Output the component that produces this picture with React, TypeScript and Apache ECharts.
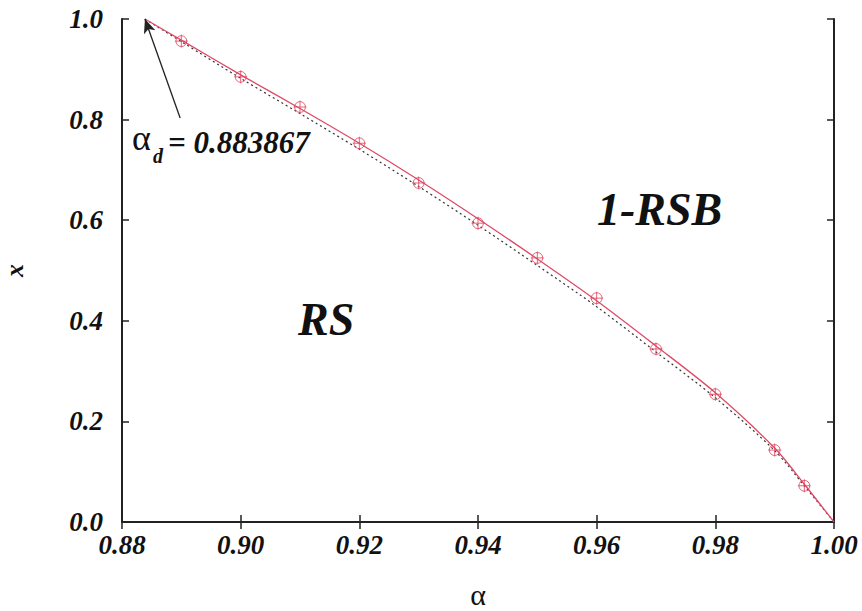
import React, { useEffect, useRef } from "react";
import * as echarts from "echarts";

const xTicks = [0.88, 0.9, 0.92, 0.94, 0.96, 0.98, 1.0];
const yTicks = [0.0, 0.2, 0.4, 0.6, 0.8, 1.0];

const alphaD = 0.883867;

// simulation points (alpha, x)
const pointAlpha = [0.89, 0.9, 0.91, 0.92, 0.93, 0.94, 0.95, 0.96, 0.97, 0.98, 0.99, 0.995];
const pointX = [0.956, 0.885, 0.825, 0.753, 0.674, 0.594, 0.525, 0.445, 0.344, 0.254, 0.143, 0.072];

// solid (red) curve
const curveAlpha = [0.883867, 0.89, 0.9, 0.91, 0.92, 0.93, 0.94, 0.95, 0.96, 0.97, 0.98, 0.99, 0.995, 1.0];
const curveX = [1.0, 0.958, 0.889, 0.822, 0.753, 0.68, 0.603, 0.523, 0.44, 0.35, 0.257, 0.147, 0.075, 0.0];

// dotted curve
const dotAlpha = [0.883867, 0.89, 0.9, 0.91, 0.92, 0.93, 0.94, 0.95, 0.96, 0.97, 0.98, 0.99, 0.995, 1.0];
const dotX = [1.0, 0.955, 0.882, 0.812, 0.741, 0.667, 0.59, 0.51, 0.428, 0.338, 0.247, 0.142, 0.072, 0.0];

// arrow annotation start point (data coords)
const arrowFrom = [0.8898, 0.803];

const SERIF = "Liberation Serif";

export default function App() {
  const ref = useRef<HTMLDivElement>(null);
  useEffect(() => {
    if (!ref.current) return;
    const chart = echarts.init(ref.current, undefined, { renderer: "svg" });
    const zip = (a: number[], b: number[]) => a.map((v, i) => [v, b[i]]);
    const tickLabelStyle = {
      fontFamily: SERIF,
      fontSize: 27,
      fontWeight: "bold" as const,
      fontStyle: "italic" as const,
      color: "#111",
    };
    const axisLine = { show: true, lineStyle: { color: "#222", width: 2 } };
    const axisTick = { show: true, inside: true, length: 7, lineStyle: { color: "#222", width: 1.5 } };
    chart.setOption({
      animation: false,
      backgroundColor: "#fff",
      grid: {
        left: 122,
        right: 28,
        top: 19,
        bottom: 89,
        containLabel: false,
        outerBoundsMode: "none",
      },
      xAxis: [
        {
          type: "value",
          min: 0.88,
          max: 1.0,
          interval: 0.02,
          axisLine,
          axisTick,
          splitLine: { show: false },
          axisLabel: {
            ...tickLabelStyle,
            margin: 9,
            formatter: (v: number) => v.toFixed(2),
            customValues: xTicks,
          },
          name: "α",
          nameLocation: "middle",
          nameGap: 57,
          nameTextStyle: { fontFamily: SERIF, fontSize: 30, color: "#111" },
        },
        {
          type: "value",
          position: "top",
          min: 0.88,
          max: 1.0,
          interval: 0.02,
          axisLine,
          axisTick,
          axisLabel: { show: false },
          splitLine: { show: false },
        },
      ],
      yAxis: [
        {
          type: "value",
          min: 0,
          max: 1.0,
          interval: 0.2,
          axisLine,
          axisTick,
          splitLine: { show: false },
          axisLabel: {
            ...tickLabelStyle,
            margin: 19,
            formatter: (v: number) => v.toFixed(1),
            customValues: yTicks,
          },
          name: "x",
          nameLocation: "middle",
          nameGap: 95,
          nameTextStyle: {
            fontFamily: SERIF,
            fontSize: 26,
            fontWeight: "bold",
            fontStyle: "italic",
            color: "#111",
          },
        },
        {
          type: "value",
          position: "right",
          min: 0,
          max: 1.0,
          interval: 0.2,
          axisLine,
          axisTick,
          axisLabel: { show: false },
          splitLine: { show: false },
        },
      ],
      series: [
        {
          type: "line",
          data: zip(dotAlpha, dotX),
          smooth: 0.3,
          showSymbol: false,
          symbol: "none",
          lineStyle: { color: "#333", width: 1.2, type: [2, 3] },
          silent: true,
          z: 2,
          markLine: {
            silent: true,
            symbol: ["none", "arrow"],
            symbolSize: [9, 14],
            label: { show: false },
            lineStyle: { color: "#222", width: 1.3, type: "solid" },
            data: [[{ coord: arrowFrom }, { coord: [alphaD, 1.0] }]],
          },
        },
        {
          type: "line",
          data: zip(curveAlpha, curveX),
          smooth: 0.3,
          showSymbol: false,
          symbol: "none",
          lineStyle: { color: "#de4a66", width: 1.3 },
          silent: true,
          z: 3,
        },
        {
          type: "scatter",
          data: zip(pointAlpha, pointX),
          symbol:
            "path://M0,10 A10,10 0 1,1 20,10 A10,10 0 1,1 0,10 Z M10,-2 L10,22 M-2,10 L22,10",
          symbolSize: 13,
          itemStyle: { color: "none", borderColor: "#e0405c", borderWidth: 1 },
          z: 4,
        },
      ],
      graphic: [
        {
          type: "text",
          x: 132,
          y: 156,
          style: {
            text: "α",
            fontFamily: SERIF,
            fontSize: 36,
            fill: "#111",
            verticalAlign: "bottom",
          },
        },
        {
          type: "text",
          x: 153,
          y: 166,
          style: {
            text: "d",
            fontFamily: SERIF,
            fontSize: 20,
            fontWeight: "bold",
            fontStyle: "italic",
            fill: "#111",
            verticalAlign: "bottom",
          },
        },
        {
          type: "text",
          x: 168,
          y: 158,
          style: {
            text: "= 0.883867",
            fontFamily: SERIF,
            fontSize: 31,
            fontWeight: "bold",
            fontStyle: "italic",
            fill: "#111",
            verticalAlign: "bottom",
          },
        },
        {
          type: "text",
          x: 298,
          y: 342,
          style: {
            text: "RS",
            fontFamily: SERIF,
            fontSize: 46,
            fontWeight: "bold",
            fontStyle: "italic",
            fill: "#111",
            verticalAlign: "bottom",
          },
        },
        {
          type: "text",
          x: 597,
          y: 232,
          style: {
            text: "1-RSB",
            fontFamily: SERIF,
            fontSize: 46,
            fontWeight: "bold",
            fontStyle: "italic",
            fill: "#111",
            verticalAlign: "bottom",
          },
        },
      ],
    });
    return () => chart.dispose();
  }, []);
  return (
    <div
      ref={ref}
      style={{ position: "absolute", left: 0, top: 0, width: 862, height: 611, background: "#fff" }}
    />
  );
}
